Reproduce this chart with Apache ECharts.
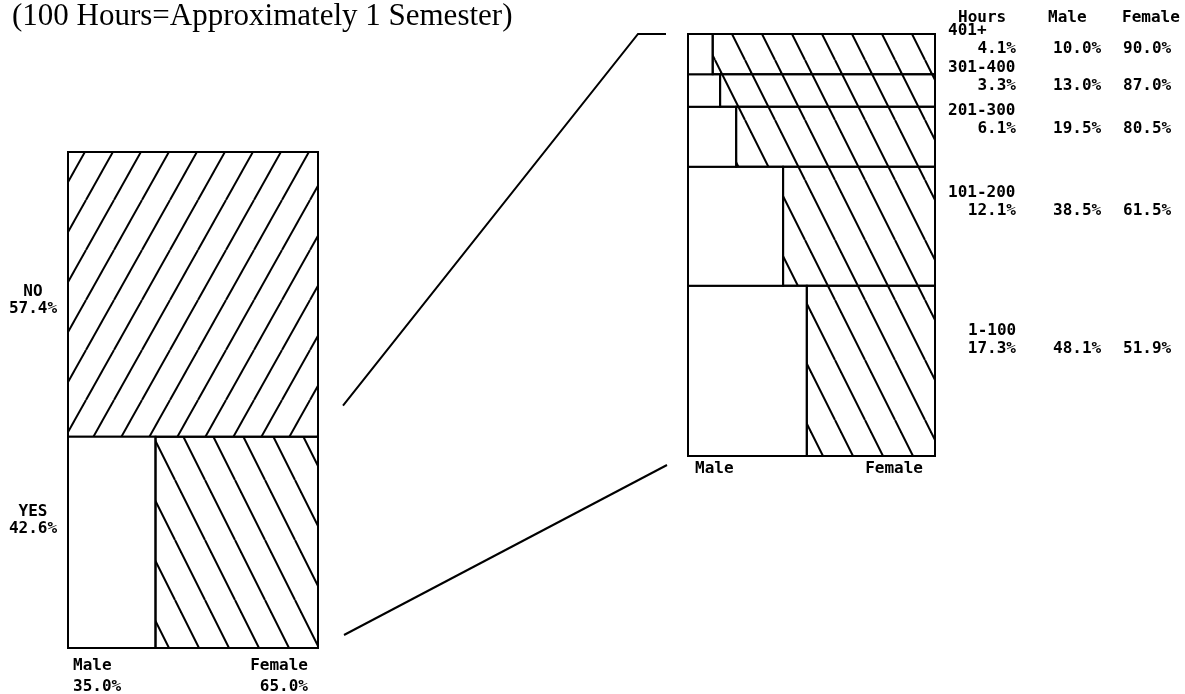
<!DOCTYPE html>
<html>
<head>
<meta charset="utf-8">
<script src="https://cdn.jsdelivr.net/npm/echarts@6/dist/echarts.min.js"></script>
<style>
  html, body { margin: 0; padding: 0; background: #fff; }
  #main { width: 1185px; height: 694px; }
</style>
</head>
<body>
<div id="main"></div>
<script>
// volunteered at all? (left mosaic)
var answers = ['NO', 'YES'];
var answerShare = [57.4, 42.6];
var genders = ['Male', 'Female'];
var yesGenderShare = [35.0, 65.0];

// hours volunteered (right mosaic), top row first
var hourBands = ['401+', '301-400', '201-300', '101-200', '1-100'];
var hourShare = [4.1, 3.3, 6.1, 12.1, 17.3];
var hourMale = [10.0, 13.0, 19.5, 38.5, 48.1];
var hourFemale = [90.0, 87.0, 80.5, 61.5, 51.9];

var MONO = 'bold 16px "DejaVu Sans Mono"';
var pct = function (v) { return v.toFixed(1) + '%'; };

// hatch tiles: line goes corner to corner so the tile repeats seamlessly
function hatch(w, h, x0, dir) {
  var c = document.createElement('canvas');
  c.width = w;
  c.height = h;
  var g = c.getContext('2d');
  g.strokeStyle = '#000';
  g.lineWidth = 2;
  for (var k = -3; k <= 3; k++) {
    g.beginPath();
    g.moveTo(x0 + k * w, 0);
    g.lineTo(x0 + k * w + dir * w, h);
    g.stroke();
  }
  return { image: c, repeat: 'repeat' };
}
var fills = ['#fff', hatch(30, 60, 25, 1), hatch(28, 50, 2, -1)];

// cells: [x0, x1, y0, y1, fillIndex]
var leftCells = [
  [0, 100, answerShare[1], 100, 2],
  [0, yesGenderShare[0], 0, answerShare[1], 0],
  [yesGenderShare[0], 100, 0, answerShare[1], 1]
];
var hourTotal = hourShare.reduce(function (a, b) { return a + b; }, 0);
var rightCells = [];
var rowBounds = [];
var acc = 0;
for (var i = hourBands.length - 1; i >= 0; i--) {
  var y0 = acc, y1 = acc + hourShare[i];
  rowBounds[i] = [y0, y1];
  rightCells.push([0, hourMale[i], y0, y1, 0]);
  rightCells.push([hourMale[i], 100, y0, y1, 1]);
  acc = y1;
}

function renderCell(params, api) {
  var tl = api.coord([api.value(0), api.value(3)]);
  var br = api.coord([api.value(1), api.value(2)]);
  return {
    type: 'rect',
    shape: { x: tl[0], y: tl[1], width: br[0] - tl[0], height: br[1] - tl[1] },
    style: { fill: fills[api.value(4)], stroke: '#000', lineWidth: 2 }
  };
}

var chart = echarts.init(document.getElementById('main'));
chart.setOption({
  animation: false,
  backgroundColor: '#fff',
  grid: [
    { left: 68, top: 152, width: 250, height: 496 },
    { left: 688, top: 34, width: 247, height: 422 }
  ],
  xAxis: [
    { type: 'value', gridIndex: 0, min: 0, max: 100, show: false },
    { type: 'value', gridIndex: 1, min: 0, max: 100, show: false }
  ],
  yAxis: [
    { type: 'value', gridIndex: 0, min: 0, max: 100, show: false },
    { type: 'value', gridIndex: 1, min: 0, max: hourTotal, show: false }
  ],
  series: [
    {
      type: 'custom', xAxisIndex: 0, yAxisIndex: 0,
      encode: { x: [0, 1], y: [2, 3] },
      renderItem: renderCell, data: leftCells, silent: true
    },
    {
      type: 'custom', xAxisIndex: 1, yAxisIndex: 1,
      encode: { x: [0, 1], y: [2, 3] },
      renderItem: renderCell, data: rightCells, silent: true
    }
  ]
});

function px(grid, x, y) {
  return chart.convertToPixel({ gridIndex: grid }, [x, y]);
}
function txt(text, x, y, align, font) {
  return {
    type: 'text', x: x, y: y, silent: true,
    style: {
      text: text, font: font || MONO, fill: '#000',
      textAlign: align || 'left', textVerticalAlign: 'middle'
    }
  };
}

var els = [];
els.push(txt('(100 Hours=Approximately 1 Semester)', 12, 17, 'left', '31px "Liberation Serif"'));

// left mosaic labels
var LB = px(0, 0, 0), LT = px(0, 100, 100);
var leftLabelAt = [0.55, 0.435];
var rowsLeft = [[answerShare[1], 100], [0, answerShare[1]]];
answers.forEach(function (a, k) {
  var top = px(0, 0, rowsLeft[k][1])[1];
  var bot = px(0, 0, rowsLeft[k][0])[1];
  var vy = top + (bot - top) * leftLabelAt[k];
  els.push(txt(a, 33, vy - 17, 'center'));
  els.push(txt(pct(answerShare[k]), 33, vy, 'center'));
});
els.push(txt(genders[0], LB[0] + 5, LB[1] + 18, 'left'));
els.push(txt(pct(yesGenderShare[0]), LB[0] + 5, LB[1] + 39, 'left'));
els.push(txt(genders[1], LT[0] - 10, LB[1] + 18, 'right'));
els.push(txt(pct(yesGenderShare[1]), LT[0] - 10, LB[1] + 39, 'right'));

// right mosaic labels
var RB = px(1, 0, 0), RT = px(1, 100, hourTotal);
els.push(txt('Hours', RT[0] + 23, 18, 'left'));
els.push(txt('Male', RT[0] + 113, 18, 'left'));
els.push(txt('Female', RT[0] + 187, 18, 'left'));
hourBands.forEach(function (b, k) {
  var top = px(1, 0, rowBounds[k][1])[1];
  var bot = px(1, 0, rowBounds[k][0])[1];
  var vy = top + (bot - top) * 0.37;
  // the last band's label sits over its share value in the original
  var lx = k === hourBands.length - 1 ? RT[0] + 33 : RT[0] + 13;
  els.push(txt(b, lx, vy - 18, 'left'));
  els.push(txt(pct(hourShare[k]), RT[0] + 81, vy, 'right'));
  els.push(txt(pct(hourMale[k]), RT[0] + 118, vy, 'left'));
  els.push(txt(pct(hourFemale[k]), RT[0] + 188, vy, 'left'));
});
els.push(txt(genders[0], RB[0] + 7, RB[1] + 13, 'left'));
els.push(txt(genders[1], RT[0] - 12, RB[1] + 13, 'right'));

// connectors from the YES row to the zoomed mosaic
var yesTop = px(0, 100, answerShare[1]);
els.push({
  type: 'polyline', silent: true,
  shape: { points: [[yesTop[0] + 25, yesTop[1] - 31], [RB[0] - 50, RT[1]], [RB[0] - 22, RT[1]]] },
  style: { stroke: '#000', lineWidth: 2, fill: null }
});
els.push({
  type: 'line', silent: true,
  shape: { x1: LT[0] + 26, y1: LB[1] - 13, x2: RB[0] - 21, y2: RB[1] + 9 },
  style: { stroke: '#000', lineWidth: 2 }
});

chart.setOption({ graphic: { elements: els } });
</script>
</body>
</html>
